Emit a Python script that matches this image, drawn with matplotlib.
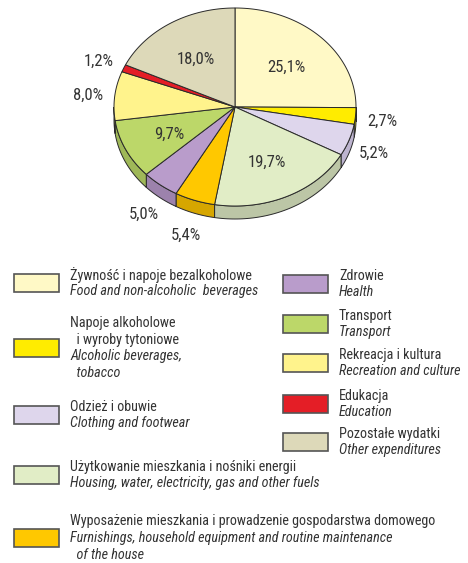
import numpy as np
import matplotlib
matplotlib.use("Agg")
import matplotlib.pyplot as plt
from matplotlib.patches import Polygon, Rectangle

plt.rcParams['font.family'] = ['Roboto Condensed', 'DejaVu Sans']

# dane
values = [25.1, 2.7, 5.2, 19.7, 5.4, 5.0, 9.7, 8.0, 1.2, 18.0]
labels = ["25,1%", "2,7%", "5,2%", "19,7%", "5,4%", "5,0%", "9,7%", "8,0%", "1,2%", "18,0%"]
inside = [True, False, False, True, False, False, True, False, False, True]
top_colors = ["#FFF9C6", "#FFEC00", "#DED6EC", "#E1EDC6", "#FFC800",
              "#B99CCB", "#BCD769", "#FFF38C", "#E41E26", "#DDD9B9"]
side_colors = ["#D8D3A0", "#D8C800", "#BDB4CF", "#BCC6A6", "#D6A600",
               "#9C82AC", "#9FB858", "#D8CE70", "#B01820", "#BBB79A"]
names_pl = ["Żywność i napoje bezalkoholowe",
            "Napoje alkoholowe\n  i wyroby tytoniowe",
            "Odzież i obuwie",
            "Użytkowanie mieszkania i nośniki energii",
            "Wyposażenie mieszkania i prowadzenie gospodarstwa domowego",
            "Zdrowie", "Transport", "Rekreacja i kultura", "Edukacja",
            "Pozostałe wydatki"]
names_en = ["Food and non-alcoholic  beverages",
            "Alcoholic beverages,\n  tobacco",
            "Clothing and footwear",
            "Housing, water, electricity, gas and other fuels",
            "Furnishings, household equipment and routine maintenance\n  of the house",
            "Health", "Transport", "Recreation and culture", "Education",
            "Other expenditures"]

W, H = 468, 563
fig = plt.figure(figsize=(W / 100, H / 100), dpi=100)
ax = fig.add_axes([0, 0, 1, 1])
ax.set_xlim(0, W)
ax.set_ylim(H, 0)
ax.axis("off")

cx, cy, rx, ry, depth = 235, 107, 121, 99, 13
edge = "#2a2a2a"
txt = "#333333"

def pt(a):
    return cx + rx * np.cos(np.radians(a)), cy - ry * np.sin(np.radians(a))

frac = np.array(values) / sum(values)
cum = np.concatenate([[0], np.cumsum(frac)])
starts = 90 - 360 * cum[:-1]
ends = 90 - 360 * cum[1:]

# boki (przednia część, kąty -180..0)
for s, e, c in zip(starts, ends, side_colors):
    a0, a1 = max(e, -180), min(s, 0)
    if a1 <= a0:
        continue
    aa = np.linspace(a1, a0, 60)
    xs, ys = pt(aa)
    verts = list(zip(xs, ys)) + list(zip(xs[::-1], ys[::-1] + depth))
    ax.add_patch(Polygon(verts, closed=True, fc=c, ec=edge, lw=0.7, zorder=1))

# wierzch
for s, e, c in zip(starts, ends, top_colors):
    aa = np.linspace(s, e, 100)
    xs, ys = pt(aa)
    verts = [(cx, cy)] + list(zip(xs, ys))
    ax.add_patch(Polygon(verts, closed=True, fc=c, ec=edge, lw=0.7, zorder=2))

# etykiety
for s, e, lab, ins in zip(starts, ends, labels, inside):
    m = np.radians((s + e) / 2)
    f = 0.6 if ins else 1.22
    x, y = cx + f * rx * np.cos(m), cy - f * ry * np.sin(m) + 2
    if not ins and np.sin(m) < 0:
        y += depth * abs(np.sin(m))
    ax.text(x, y, lab, ha="center", va="center", fontsize=12, color=txt, zorder=3)

# legenda
left_rows = [(0, 283), (1, 348), (2, 415), (3, 475), (4, 538)]
right_rows = [(5, 284), (6, 324), (7, 363), (8, 404), (9, 442)]
lh = 16.8
for rows, sx, tx in [(left_rows, 14, 70), (right_rows, 283, 339)]:
    for i, yc in rows:
        ax.add_patch(Rectangle((sx, yc - 9), 45, 18, fc=top_colors[i],
                               ec="#555555", lw=1.2, zorder=2))
        lines = [(l, "normal") for l in names_pl[i].split("\n")] + \
                [(l, "italic") for l in names_en[i].split("\n")]
        y0 = yc - (len(lines) - 1) * lh / 2
        for k, (l, st) in enumerate(lines):
            ax.text(tx, y0 + k * lh, l, ha="left", va="center", fontsize=10.2,
                    color=txt, style=st)

fig.savefig("out.png", dpi=100)
